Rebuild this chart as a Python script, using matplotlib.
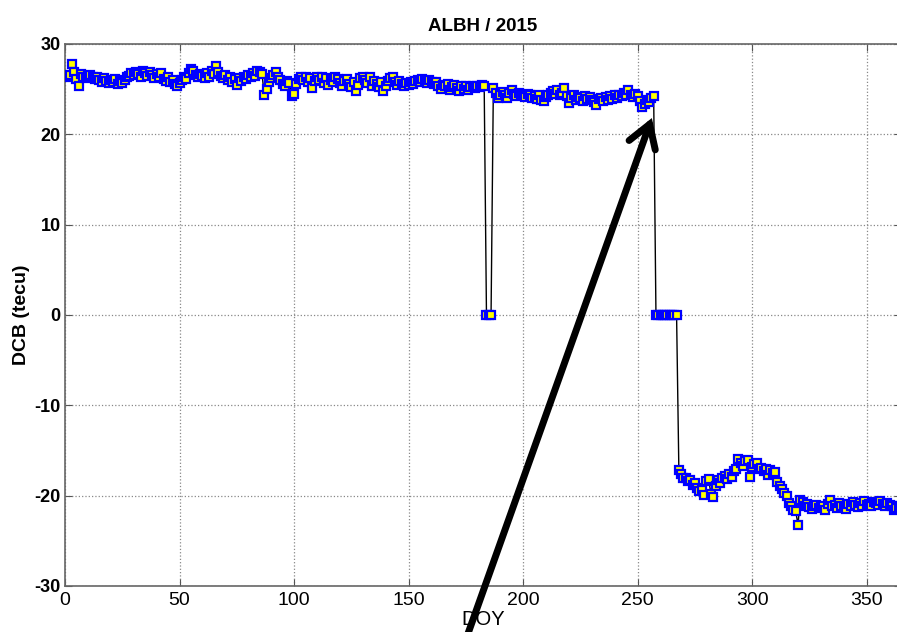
import matplotlib
matplotlib.use("Agg")
import matplotlib.pyplot as plt

# DCB diario da estacao ALBH em 2015 (tecu)
doy = list(range(1, 366))
dcb = [
    26.3, 26.6, 27.8, 26.9, 26.1, 25.3, 26.7, 26.4, 26.2, 26.5,
    26.6, 26.3, 26.1, 26.4, 26.0, 25.8, 26.2, 25.9, 25.7, 26.0,
    25.8, 26.1, 25.6, 25.9, 25.7, 26.0, 26.3, 26.5, 26.8, 26.6,
    26.9, 26.7, 26.4, 27.0, 26.8, 26.5, 26.9, 26.6, 26.2, 26.7,
    26.4, 26.8, 26.1, 25.9, 26.3, 25.8, 26.0, 25.6, 25.3, 25.7,
    26.0, 26.4, 26.1, 26.8, 27.2, 27.0, 26.6, 26.3, 26.7, 26.5,
    26.2, 26.8, 26.4, 27.0, 26.7, 27.6, 26.9, 26.5, 26.2, 26.6,
    26.0, 26.3, 25.8, 26.1, 25.5, 26.2, 25.9, 26.4, 26.1, 26.6,
    26.3, 26.8, 26.5, 27.0, 26.9, 26.7, 24.3, 25.0, 25.8, 26.2,
    26.6, 26.9, 26.3, 26.0, 25.6, 25.4, 25.9, 25.7, 24.2, 24.5,
    25.6, 26.1, 26.3, 26.0, 26.4, 25.8, 26.2, 25.1, 25.9, 26.3,
    26.0, 26.4, 25.7, 26.2, 25.5, 26.0, 25.8, 26.3, 26.1, 25.7,
    25.4, 25.9, 26.1, 25.6, 25.2, 25.8, 24.8, 25.5, 26.2, 26.4,
    26.0, 25.7, 26.3, 25.4, 25.9, 25.6, 25.2, 25.8, 24.8, 25.4,
    25.9, 26.2, 26.4, 25.8, 25.5, 25.9, 25.6, 25.3, 25.7, 25.5,
    25.8, 25.6, 25.9, 26.0, 25.8, 26.1, 25.9, 25.7, 26.0, 25.8,
    25.6, 25.8, 25.4, 25.0, 25.5, 25.3, 25.6, 24.9, 25.2, 25.5,
    25.1, 24.8, 25.3, 25.0, 25.4, 24.9, 25.2, 25.4, 25.1, 25.3,
    25.2, 25.5, 25.4, 0.0, 0.0, 0.0, 25.1, 24.6, 24.0, 24.4,
    24.7, 24.3, 24.0, 24.6, 24.9, 24.5, 24.2, 24.6, 24.3, 24.4,
    24.1, 24.5, 24.3, 24.0, 24.2, 23.9, 24.4, 23.8, 23.7, 24.1,
    24.3, 24.6, 24.8, 24.5, 24.9, 24.4, 24.6, 25.1, 24.2, 23.5,
    24.0, 24.3, 23.8, 24.1, 24.0, 23.7, 24.2, 23.9, 24.1, 23.8,
    23.6, 23.3, 23.9, 24.0, 23.7, 24.1, 23.8, 24.2, 23.9, 24.3,
    24.0, 24.4, 24.2, 24.6, 24.3, 24.9, 24.4, 24.1, 24.5, 24.2,
    23.7, 23.0, 23.4, 23.8, 23.6, 24.0, 24.2, 0.0, 0.0, 0.0,
    0.0, 0.0, 0.0, 0.0, 0.0, 0.0, 0.0, -17.2, -17.6, -18.0,
    -18.1, -18.4, -18.3, -18.8, -18.6, -19.2, -19.5, -19.4, -19.9, -18.4,
    -18.2, -19.8, -20.2, -18.9, -18.3, -18.6, -18.0, -17.8, -18.2, -17.6,
    -17.9, -17.3, -17.1, -15.9, -16.4, -16.7, -16.2, -16.1, -17.9, -16.8,
    -16.5, -16.4, -17.0, -16.9, -17.3, -17.1, -17.7, -17.2, -17.5, -17.4,
    -18.5, -18.9, -19.3, -19.7, -20.0, -20.8, -21.2, -21.6, -21.7, -23.2,
    -20.5, -20.7, -21.1, -20.9, -21.3, -21.5, -21.2, -21.0, -21.4, -21.3,
    -21.1, -21.6, -20.9, -20.5, -21.2, -21.0, -21.4, -20.8, -21.1, -21.3,
    -21.5, -20.9, -21.2, -20.7, -21.0, -21.3, -20.8, -21.1, -20.6, -21.0,
    -20.9, -21.2, -20.7, -20.8, -21.0, -20.6, -20.9, -21.1, -20.8, -21.0,
    -21.2, -21.6, -21.4, -21.1, -21.3,
]

xticks = [0, 50, 100, 150, 200, 250, 300, 350]
yticks = [-30, -20, -10, 0, 10, 20, 30]

# ponta e cauda da seta desenhada por cima do grafico
seta_ponta = (256.2, 21.8)
seta_cauda = (173.5, -37.0)

fig = plt.figure(figsize=(8.97, 6.32), dpi=100)
ax = fig.add_axes([0.0725, 0.0728, 0.932, 0.8576])

ax.plot(doy, dcb, '-', color='black', lw=1.0, zorder=2)
ax.plot(doy, dcb, 's', ms=5.8, mfc='yellow', mec='blue', mew=1.6, zorder=3)

ax.set_xlim(0, 365)
ax.set_ylim(-30, 30)
ax.set_xticks(xticks)
ax.set_yticks(yticks)
ax.grid(True, ls=':', color='#888888', lw=0.9)
ax.tick_params(direction='in', top=True, right=True, length=5, color='#555555')
for s in ax.spines.values():
    s.set_color('#666666')
    s.set_linewidth(1.2)

ax.set_yticklabels([str(v) for v in yticks], fontsize=13, fontweight='bold',
                   family='Liberation Sans')
ax.set_xticklabels([str(v) for v in xticks], fontsize=14, family='Liberation Sans')
ax.tick_params(axis='y', pad=3)
ax.tick_params(axis='x', pad=4)

ax.set_title('ALBH / 2015', fontsize=13.5, fontweight='bold', family='Liberation Sans', pad=9)
ax.set_ylabel('DCB (tecu)', fontsize=14, fontweight='bold', family='Liberation Sans', labelpad=3)
ax.set_xlabel('DOY', fontsize=14.5, family='Liberation Sans', labelpad=1)

ax.annotate('', xy=seta_ponta, xytext=seta_cauda, xycoords='data',
            annotation_clip=False,
            arrowprops=dict(arrowstyle='->, head_length=0.8, head_width=0.5',
                            mutation_scale=20, lw=5, color='black',
                            shrinkA=0, shrinkB=0, capstyle='round', joinstyle='miter'))

fig.savefig('out.png', dpi=100)
